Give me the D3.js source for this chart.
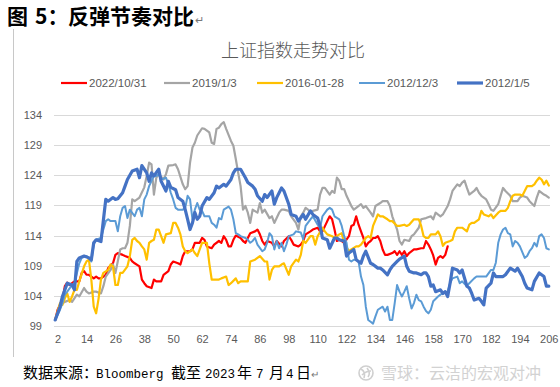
<!DOCTYPE html>
<html>
<head>
<meta charset="utf-8">
<script src="https://cdn.jsdelivr.net/npm/d3@7/dist/d3.min.js"></script>
<style>
  body { margin: 0; background: #fff; }
  svg { display: block; }
</style>
</head>
<body>
<svg id="chart" width="560" height="387"></svg>
<script>
// trading day since start, index level (start = 100)
const seriesNames = ["2022/10/31", "2019/1/3", "2016-01-28", "2012/12/3", "2012/1/5"]
const seriesColors = ["#FF0000", "#A5A5A5", "#FFC000", "#5B9BD5", "#4472C4"]
const seriesWidths = [2.2, 2.2, 2.2, 2, 3.2]

const xTicks = d3.range(2, 207, 12)
const yTicks = [99, 104, 109, 114, 119, 124, 129, 134]

const s20221031 = [[1,100],[2,101.7],[4,103.3],[5,105.6],[6,106.2],[7,105.8],[8,106.1],[9,106.4],[11,106.4],[12,107.8],[13,108.1],[14,107.5],[15,107.5],[17,106.9],[18,107.2],[19,106.9],[20,106.9],[22,107.5],[23,108.6],[25,109.4],[26,110.8],[27,111.1],[29,110.8],[30,110.6],[32,110.3],[33,109.7],[34,109.4],[36,108.9],[37,106.7],[38,106.1],[39,105.6],[41,105.3],[42,106.7],[43,106.4],[45,106.4],[46,107.5],[48,108.1],[49,109.2],[50,109.7],[52,109.4],[53,109.2],[54,110.6],[55,111.4],[57,111.4],[58,111.7],[59,112.8],[61,112.8],[62,113.6],[63,113.3],[64,112.2],[66,111.9],[67,112.5],[69,113.1],[70,112.8],[71,113.9],[72,113.3],[73,112.2],[74,112.2],[75,113.3],[76,114],[78,113.6],[79,113.1],[80,112.8],[81,113.6],[82,114.4],[84,114.7],[85,115],[86,114.2],[87,113.1],[88,112.5],[89,113.1],[91,112.8],[92,112.2],[93,113.1],[95,112.2],[96,113.1],[98,113.9],[99,113.3],[100,112.5],[102,112.2],[103,112.5],[104,113.1],[105,114.2],[107,114.7],[108,115],[110,115.3],[111,114.7],[112,114.7],[114,116.4],[115,117.2],[116,116.7],[117,115],[118,113.1],[119,113.3],[120,113.1],[121,112.8],[123,113.9],[124,115.6],[125,115.8],[126,117.2],[127,115.8],[128,114.7],[129,113.6],[130,112.2],[131,112.8],[132,113.1],[133,113.6],[134,113.6],[135,113.9],[136,113.1],[137,111.7],[138,110.8],[139,110.8],[141,111.1],[142,111.4],[143,110.8],[144,111.4],[145,110.8],[146,111.4],[147,110.6],[148,111.1],[150,111.7],[151,111.7],[153,111.9],[154,111.9],[155,113.1],[156,112.5],[157,111.7],[158,110.7],[159,109.2],[160,110.3],[161,110.6],[162,110.3],[163,110.8],[164,112.2]]

const s201913 = [[1,100],[2,101.2],[3,102.5],[5,103],[7,103.3],[8,103],[10,104.2],[11,103.9],[13,105.3],[14,104.7],[15,104.4],[17,104.7],[18,104.7],[20,104.4],[21,105.6],[22,107.2],[24,108.3],[25,109.2],[26,107.8],[28,111.7],[29,111.9],[30,111.9],[31,112.8],[32,115.6],[33,120],[34,119.7],[35,120],[36,120.3],[38,122],[39,123.9],[40,126.1],[41,125.8],[42,120.8],[43,123.6],[44,124.2],[46,123.3],[47,124.2],[48,125.6],[50,125.7],[51,125.8],[52,125],[54,122.5],[55,121.7],[56,122.2],[57,126.1],[58,128.6],[59,129.4],[60,130.6],[62,131.8],[63,131.7],[65,131.1],[66,129.4],[67,129.2],[68,131.7],[69,131.9],[70,132.5],[71,132.8],[72,131.7],[74,129.7],[75,128.9],[76,126.7],[77,124.4],[78,122.2],[79,118.3],[80,118.9],[81,117.8],[82,116.1],[83,118.3],[85,117.8],[86,119.4],[87,117.8],[88,118.3],[90,116.9],[91,117.2],[92,116.1],[94,117.8],[95,118.3],[96,118.3],[98,118.1],[99,117.2],[101,116.1],[102,115],[103,117.2],[104,117.8],[105,118.6],[106,118.3],[107,117.8],[108,118.1],[110,118.3],[111,120.8],[112,121.9],[113,121.9],[115,120.8],[116,121.4],[117,121.1],[118,123.6],[119,123.1],[120,121.7],[121,121.7],[122,120.6],[124,118.9],[125,118.3],[126,118.6],[128,119.2],[129,118.6],[130,118.9],[132,117.8],[133,117.2],[134,118.9],[136,119.4],[137,119.7],[139,119.7],[140,118.9],[141,117.2],[143,115],[144,113.1],[145,112.5],[146,113.3],[148,113.1],[149,113.9],[150,114.2],[152,115.3],[153,116.7],[155,116.9],[157,117.2],[158,116.7],[159,117.8],[161,117.2],[162,117.5],[164,118.9],[165,120],[166,121.4],[168,122.5],[169,122.2],[170,122.8],[171,123.1],[172,121.9],[173,120.8],[175,121.4],[176,121.9],[177,121.1],[178,120.6],[180,120],[181,119.2],[182,118.3],[183,118.1],[185,119.2],[186,120.6],[187,121.9],[188,121.4],[190,120.6],[191,119.7],[193,119.7],[194,120.3],[195,120.6],[197,120.3],[198,119.7],[200,118.9],[201,120.3],[202,121.4],[204,120.8],[205,120.6],[206,120.3]]

const s20160128 = [[1,100],[2,101.4],[3,102.8],[4,102.5],[5,103.6],[6,104.4],[7,103],[8,103.9],[9,105],[10,105],[11,106.4],[13,108.9],[14,109.7],[15,110],[16,106.7],[17,102.2],[18,101.1],[19,103.5],[20,106.7],[21,107.8],[23,108.3],[24,109.2],[25,108.9],[26,105.8],[27,105.8],[28,107.8],[29,107.8],[31,108.9],[32,110.6],[33,113.3],[34,113.6],[35,113.1],[36,112.8],[37,112.2],[38,111.7],[39,110],[40,112.8],[41,113.1],[42,113.3],[43,115],[44,115],[46,112.8],[47,114.2],[49,114.4],[50,116.1],[51,116.1],[52,115.3],[53,114.2],[54,112.2],[55,111.4],[56,111.1],[58,111.7],[59,111.1],[60,110.6],[62,112.8],[63,112.8],[64,112.8],[65,109.4],[66,106.7],[67,106.7],[69,106.7],[70,106.9],[72,107.2],[73,105.8],[74,106.1],[76,106.9],[77,106.1],[78,106.4],[80,106.4],[81,106.4],[82,109.7],[84,110],[85,110.3],[86,110.6],[88,109.7],[89,109.7],[90,106.7],[91,108.3],[92,108.9],[94,108.9],[95,109.2],[96,109.4],[98,107.5],[99,108.9],[101,110],[102,109.7],[103,110.8],[104,113.1],[105,112.8],[107,113.9],[108,113.9],[109,112.5],[110,113.9],[112,115.3],[113,114.7],[114,114.2],[116,113.9],[117,113.6],[119,114.2],[120,114.4],[121,112.8],[123,111.4],[124,111.7],[126,112.2],[127,112.2],[128,112.5],[130,113.6],[131,113.9],[132,113.6],[133,115.6],[135,117.5],[136,117.2],[137,117.2],[139,116.7],[140,116.4],[141,116.4],[143,115.6],[144,115.6],[146,115.8],[147,115.6],[148,115.8],[150,116.7],[151,116.7],[152,116.7],[153,115.6],[154,113.9],[155,113.6],[156,113.6],[157,114.2],[159,114.2],[160,114.7],[161,113.9],[162,112.3],[163,112.8],[165,113.1],[166,113.3],[167,114.7],[168,115.3],[169,115.3],[170,115.3],[172,114.7],[173,115.8],[174,116.1],[175,116.1],[177,116.7],[178,118.1],[179,117.5],[181,117.2],[182,117.5],[183,116.9],[185,117.8],[186,118.1],[188,118.1],[189,118.6],[190,119.7],[191,120.6],[192,120.8],[194,120.8],[195,120.6],[196,121.4],[197,122.2],[199,122.2],[200,122.5],[201,123.1],[202,123.6],[203,123.3],[204,122.5],[205,123.1],[206,122.3]]

const s2012123 = [[1,100],[3,101.7],[4,102.8],[5,104.2],[6,104.7],[8,105.8],[9,106.1],[11,109.4],[12,110.3],[14,110.6],[15,110.3],[16,109.7],[17,112.5],[18,113.3],[20,113.6],[21,115],[22,116.4],[23,116.7],[24,116.4],[26,116.4],[27,114.7],[28,117.2],[29,118.6],[30,118.9],[31,116.9],[32,118.3],[34,117.2],[35,118.3],[36,118.6],[37,117.2],[38,120],[39,120.8],[40,122.2],[42,123.9],[43,123.9],[44,124.2],[45,123.3],[47,123.6],[48,122.5],[49,121.1],[50,120],[51,118.6],[52,118.3],[54,118.3],[55,118.6],[56,120.6],[57,120],[58,116.7],[59,118.3],[60,119.4],[61,118.3],[62,118.1],[63,117.2],[65,117.2],[66,116.1],[67,115.8],[68,115.3],[69,116.9],[70,116.7],[71,118.3],[73,118.8],[74,118.3],[75,116.7],[76,114.4],[77,114.2],[78,113.9],[80,113.6],[81,113.3],[82,112.8],[83,113.1],[84,113.6],[85,112.5],[87,111.4],[88,111.7],[89,112.8],[90,114.4],[91,113.9],[92,111.7],[93,113.1],[94,111.9],[95,112.8],[96,111.4],[97,112.5],[98,113.9],[100,114.2],[101,114.7],[103,114.5],[104,113.4],[105,115.6],[107,116.7],[108,117.2],[110,115.8],[111,115.3],[112,117.2],[114,118.3],[115,118.6],[116,118.3],[117,117.2],[119,116.7],[120,115.6],[121,113.9],[122,112.8],[123,110],[124,109.7],[125,110],[126,110],[127,109.7],[128,107.2],[129,105.8],[130,102.2],[131,100],[132,99.7],[133,99.4],[134,100.6],[135,101.7],[137,102.2],[138,101.4],[139,102.2],[140,100],[141,100],[142,102.8],[143,105.8],[144,104.7],[145,103.9],[146,104.7],[147,105.6],[148,103.6],[149,101.9],[150,102.8],[151,104.2],[152,103.3],[153,103.1],[154,102.2],[155,101.5],[156,101.1],[157,101.7],[158,103.1],[160,103.9],[161,104.2],[162,104.4],[164,104.7],[165,106.1],[166,106.9],[168,107.2],[169,106.1],[170,106.4],[172,105.6],[173,106.1],[175,106.9],[176,107.2],[178,107.2],[179,107.2],[180,107.2],[182,108.3],[183,108.3],[184,109.5],[185,112.8],[186,114.2],[187,115],[188,115.3],[189,114.4],[190,114.2],[191,112.2],[192,113.1],[193,112.8],[194,112.2],[196,110.3],[197,110.6],[198,111.4],[199,111.9],[200,112.8],[201,112.2],[202,113.9],[203,114.2],[204,113.6],[205,111.9],[206,111.7]]

const s201215 = [[1,100],[3,102.2],[4,103.9],[6,106.1],[8,105.8],[9,105],[10,109.7],[11,110.3],[13,110.6],[15,110.3],[16,110],[17,112.8],[18,113.3],[20,113],[21,116.5],[22,120],[23,119.7],[25,120.3],[26,120],[27,120.1],[29,121.1],[30,122.2],[31,123.3],[33,124.7],[35,125],[36,123.6],[37,125.6],[39,124.4],[40,123],[41,124.4],[42,123.9],[44,125],[45,123],[47,121.4],[48,123],[49,122],[51,121.6],[52,120.3],[54,119.7],[55,118.3],[56,116.7],[57,115],[58,116.1],[59,117.8],[60,116.7],[61,117.2],[62,118.9],[64,120.3],[65,120],[67,121.1],[68,122.2],[69,121.9],[71,122.5],[72,122.2],[74,123.3],[75,124.4],[76,125],[78,125],[80,123.6],[81,122.8],[83,122.2],[84,121.7],[85,120.6],[87,119.7],[88,120.8],[89,120.3],[91,121.4],[92,119.2],[93,120.3],[95,121.9],[96,121.4],[98,119.2],[99,117.5],[101,117.2],[102,116.4],[104,117.5],[105,116.7],[107,118.1],[108,117.5],[110,116.9],[111,115.6],[112,113.6],[114,113.3],[115,111.9],[117,113.6],[118,113.6],[119,113.3],[121,113.1],[122,110.6],[123,111.1],[125,111.7],[126,110],[128,109.4],[129,110.6],[130,111.4],[132,109.4],[133,109.2],[135,108.6],[136,108.6],[137,108.3],[139,107.5],[140,108.3],[141,108.9],[143,109.7],[144,110.1],[146,110.6],[147,108.9],[148,108.1],[150,107.8],[151,107.8],[153,107.5],[154,107.8],[155,107.8],[156,107.2],[157,105.6],[158,105.8],[159,104.7],[161,105],[162,104.4],[163,104.7],[164,103.9],[165,106.1],[166,108.6],[168,108.3],[169,107.8],[170,108.3],[172,105.6],[173,105.3],[174,104.4],[175,103.3],[177,103.6],[178,103.1],[179,102.5],[180,105.3],[182,106.1],[183,107.8],[184,107.2],[185,107.2],[187,107.2],[188,107.5],[190,108.6],[192,108.1],[193,108.6],[195,107.2],[196,106.1],[197,105.3],[199,105],[200,106.4],[202,107.8],[203,107.5],[204,107.2],[205,105.6],[206,105.6]]

const allSeries = [s20221031, s201913, s20160128, s2012123, s201215]

const svg = d3.select('#chart')

// plot area (Excel style category axis, 206 days)
const plotLeft = 54, plotRight = 550, plotTop = 115, plotBottom = 326

const x = d3.scaleLinear().domain([0.5, 206.5]).range([plotLeft, plotRight])
const y = d3.scaleLinear().domain([99, 134]).range([plotBottom, plotTop])

const labelColor = '#595959'
const cjk = '"Noto Sans CJK SC", "Noto Sans", sans-serif'
const latin = '"Liberation Sans", Arial, sans-serif'
const mono = '"Liberation Mono", "DejaVu Sans Mono", monospace'

// left border line of the document frame
svg.append('line')
	.attr('x1', 13.5).attr('x2', 13.5)
	.attr('y1', 29).attr('y2', 357)
	.attr('stroke', '#c8c8c8')
	.attr('stroke-width', 1)

// heading
const head = svg.append('text')
	.attr('y', 24)
	.attr('font-family', cjk)
	.attr('font-weight', 'bold')
	.attr('font-size', 21)
	.attr('fill', '#000')
head.append('tspan').attr('x', 7).text('图')
head.append('tspan').attr('x', 35).text('5：')
head.append('tspan').attr('x', 68).text('反弹节奏对比')
head.append('tspan').attr('x', 195).attr('font-size', 11).attr('font-weight', 'normal').attr('fill', '#777').text('↵')

// chart title
svg.append('text')
	.attr('x', 293).attr('y', 57)
	.attr('text-anchor', 'middle')
	.attr('font-family', cjk)
	.attr('font-weight', 300)
	.attr('font-size', 18)
	.attr('fill', labelColor)
	.text('上证指数走势对比')

// legend
const legendX = [61, 164, 257, 359, 457]
const legend = svg.append('g')
legend.selectAll('g')
	.data(seriesNames)
	.join('g')
	.each(function(name, i) {
		const g = d3.select(this)
		g.append('line')
			.attr('x1', legendX[i]).attr('x2', legendX[i] + 26)
			.attr('y1', 83).attr('y2', 83)
			.attr('stroke', seriesColors[i])
			.attr('stroke-width', seriesWidths[i])
		g.append('text')
			.attr('x', legendX[i] + 28).attr('y', 87)
			.attr('font-family', latin)
			.attr('font-size', 11.5)
			.attr('fill', labelColor)
			.text(name)
	})

// gridlines
svg.append('g')
	.selectAll('line')
	.data(yTicks)
	.join('line')
	.attr('x1', plotLeft).attr('x2', plotRight)
	.attr('y1', d => Math.round(y(d)) + 0.5)
	.attr('y2', d => Math.round(y(d)) + 0.5)
	.attr('stroke', '#d9d9d9')
	.attr('stroke-width', 1)

// y axis labels
const yAxis = svg.append('g')
	.attr('transform', `translate(${plotLeft - 12},0)`)
	.call(d3.axisLeft(y).tickValues(yTicks).tickSize(0).tickPadding(0))
yAxis.select('.domain').remove()
yAxis.selectAll('text')
	.attr('font-family', latin)
	.attr('font-size', 11)
	.attr('fill', labelColor)

// x axis labels
const xAxis = svg.append('g')
	.attr('transform', `translate(0,${plotBottom + 9})`)
	.call(d3.axisBottom(x).tickValues(xTicks).tickFormat(d3.format('d')).tickSize(0).tickPadding(0))
xAxis.select('.domain').remove()
xAxis.selectAll('text')
	.attr('font-family', latin)
	.attr('font-size', 11)
	.attr('fill', labelColor)

// lines, later series drawn on top
const line = d3.line()
	.x(d => x(d[0]))
	.y(d => y(d[1]))

svg.append('g')
	.selectAll('path')
	.data(allSeries)
	.join('path')
	.attr('d', line)
	.attr('fill', 'none')
	.attr('stroke', (d, i) => seriesColors[i])
	.attr('stroke-width', (d, i) => seriesWidths[i])
	.attr('stroke-linejoin', 'round')
	.attr('stroke-linecap', 'round')

// source note, pieces placed like the half-width word layout
const noteParts = [
	[23, '数据来源：', cjk, 15],
	[96, 'Bloomberg', mono, 12.5],
	[171, '截至', cjk, 15],
	[205, '2023', mono, 12.5],
	[237, '年', cjk, 15],
	[256, '7', mono, 12.5],
	[269, '月', cjk, 15],
	[286, '4', mono, 12.5],
	[296, '日', cjk, 15]
]
const note = svg.append('text')
	.attr('y', 378)
	.attr('fill', '#000')
note.selectAll('tspan')
	.data(noteParts)
	.join('tspan')
	.attr('x', d => d[0])
	.attr('font-family', d => d[2])
	.attr('font-size', d => d[3])
	.text(d => d[1])
note.append('tspan')
	.attr('x', 311)
	.attr('font-family', cjk)
	.attr('font-size', 10)
	.attr('fill', '#777')
	.text('↵')

// watermark
const wm = svg.append('g').attr('fill', 'none').attr('stroke', '#cfcfcf').attr('stroke-width', 1.6)
wm.append('circle').attr('cx', 366).attr('cy', 373).attr('r', 7)
wm.append('path').attr('d', 'M361,369 Q366,372 364,378 M367,368 Q371,373 368,377 M362,375 Q366,371 371,371')
svg.append('text')
	.attr('x', 381).attr('y', 379)
	.attr('font-family', cjk)
	.attr('font-size', 16)
	.attr('fill', '#d2d2d2')
	.text('雪球：云洁的宏观对冲')
</script>
</body>
</html>
